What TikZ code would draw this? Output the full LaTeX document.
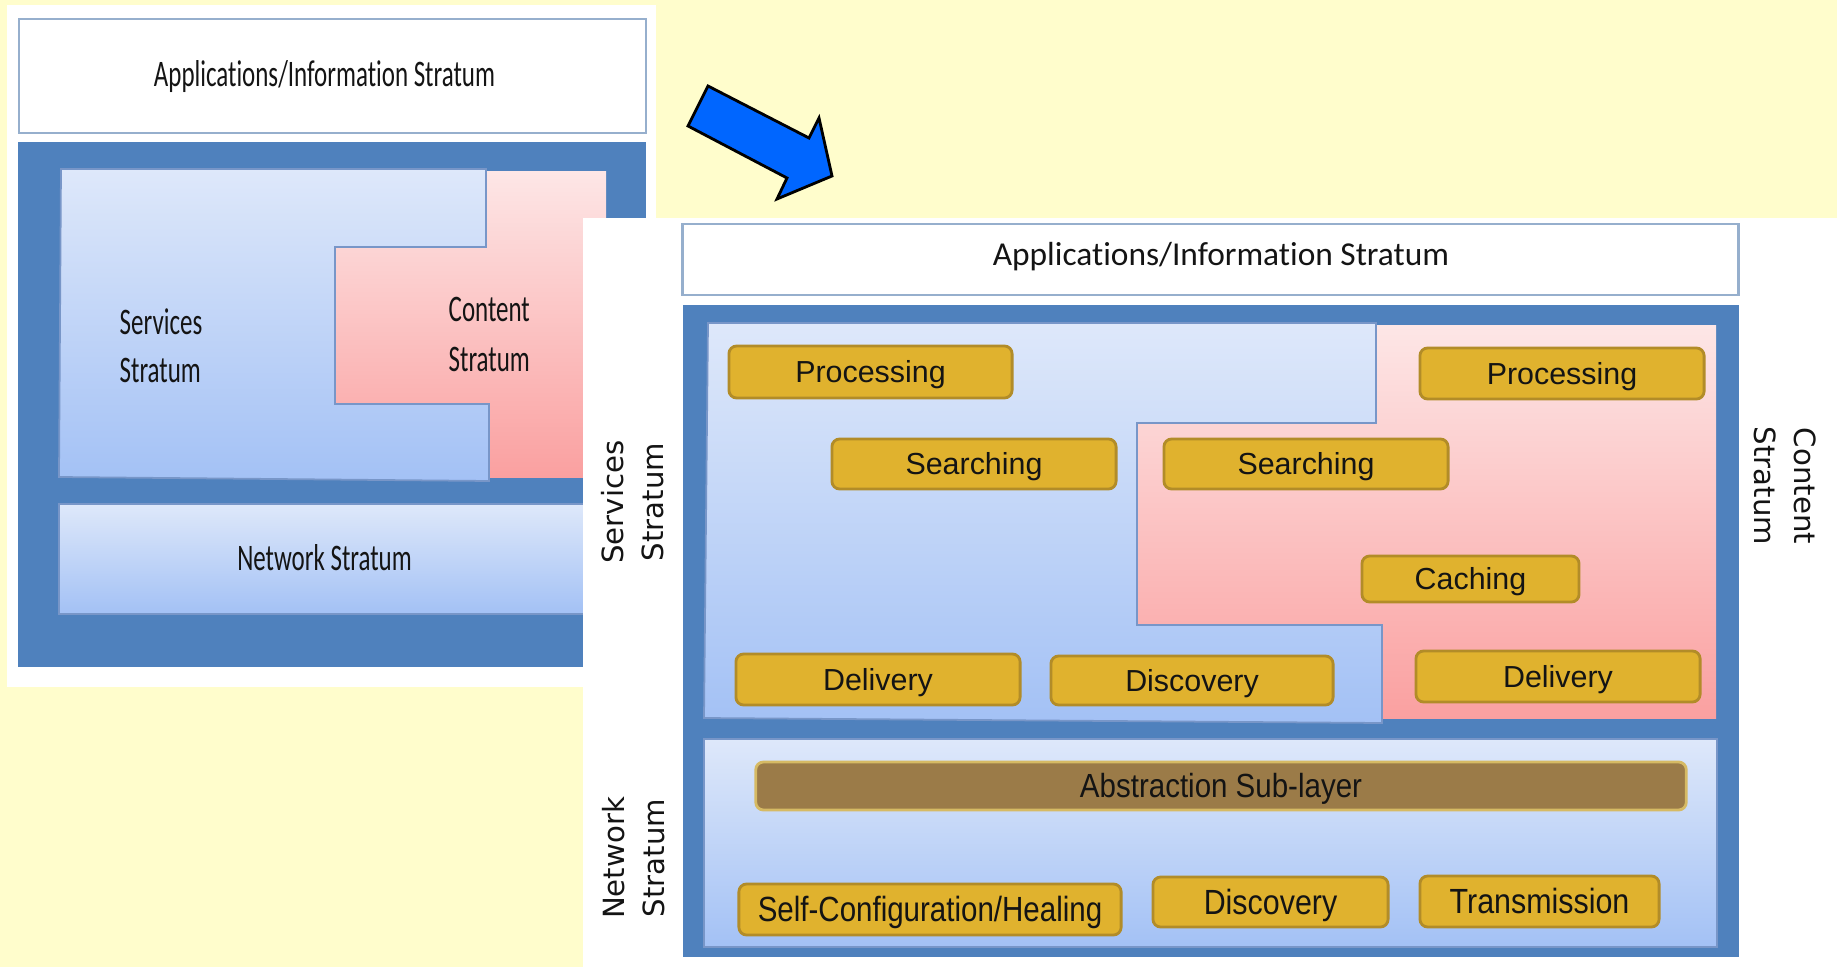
\documentclass[tikz,border=0pt]{standalone}
\usepackage{fontspec}
\setmainfont{Liberation Sans}
\newfontfamily\calfont[Ligatures={NoCommon,NoRare,NoContextual}]{Carlito}
\newfontfamily\djvfont{DejaVu Sans}
\definecolor{bgyellow}{RGB}{255,253,204}
\definecolor{darkblue}{RGB}{79,129,189}
\definecolor{svtop}{RGB}{222,232,250}
\definecolor{svbot}{RGB}{163,193,245}
\definecolor{cttop}{RGB}{253,230,230}
\definecolor{ctbot}{RGB}{250,160,160}
\definecolor{goldfill}{RGB}{224,178,46}
\definecolor{goldline}{RGB}{178,140,40}
\definecolor{absfill}{RGB}{155,123,72}
\definecolor{absline}{RGB}{214,186,100}
\definecolor{appline}{RGB}{150,175,205}
\definecolor{arrowblue}{RGB}{0,102,255}
\definecolor{edgeblue}{RGB}{120,150,200}
\definecolor{txt}{RGB}{20,20,20}
\tikzset{
  appbox/.style={draw=appline, line width=0.7pt, fill=white, inner sep=0pt},
  ltext/.style={font=\calfont\fontsize{7.1}{9}\selectfont, text=txt, inner sep=0pt},
  apptext/.style={font=\calfont\fontsize{9.5}{11}\selectfont, text=txt, inner sep=0pt},
  goldbox/.style={draw=goldline, line width=0.8pt, fill=goldfill, rounded corners=2.2pt, inner sep=0pt,
    font=\fontsize{8.65}{10}\selectfont, text=txt, text height=6.2pt, text depth=0pt},
  tallbox/.style={goldbox, text height=7.1pt},
  absbox/.style={draw=absline, line width=0.8pt, fill=absfill, rounded corners=2.2pt, inner sep=0pt,
    font=\fontsize{8.65}{10}\selectfont, text=txt, text height=6.8pt, text depth=0pt},
  rotlabel/.style={font=\djvfont\fontsize{8.3}{11.4}\selectfont, text=txt, align=center, inner sep=0pt},
  svshade/.style={top color=svtop, bottom color=svbot, draw=edgeblue, line width=0.5pt},
  ctshade/.style={top color=cttop, bottom color=ctbot},
}
\begin{document}
\begin{tikzpicture}[x=0.01cm, y=-0.01cm]
\useasboundingbox (0,0) rectangle (1837,967);
\fill[bgyellow] (0,0) rectangle (1837,967);

% ---------------- left (old) panel ----------------
\fill[white] (7,5) rectangle (656,687);
\node[appbox, minimum width=6.27cm, minimum height=1.14cm] (lapp) at (332.5,76) {};
\node[ltext, anchor=base] (lappt) at (324.5,87) {\scalebox{1}[1.5]{Applications/Information Stratum}};
\fill[darkblue] (18,142) rectangle (646,667);
\shade[ctshade] (335,172) rectangle (606,477);
\shade[svshade] (61,169) -- (486,169) -- (486,247) -- (335,247) -- (335,404) -- (489,404) -- (489,481) -- (59,477) -- cycle;
\shade[svshade] (59,504) rectangle (606,614);
\node[ltext, anchor=base west] (lsv1) at (119,335) {\scalebox{1}[1.5]{Services}};
\node[ltext, anchor=base west] (lsv2) at (119,383) {\scalebox{1}[1.5]{Stratum}};
\node[ltext, anchor=base west] (lct1) at (448,322) {\scalebox{1}[1.5]{Content}};
\node[ltext, anchor=base west] (lct2) at (448,372) {\scalebox{1}[1.5]{Stratum}};
\node[ltext, anchor=base] (lnet) at (324.5,570) {\scalebox{1}[1.5]{Network Stratum}};

% ---------------- arrow ----------------
\draw[black, fill=arrowblue, line width=0.8pt, line join=miter]
  (708,86) -- (809,138) -- (819,118) -- (832,176) -- (777,199) -- (787,178) -- (688,126) -- cycle;

% ---------------- right (new) panel ----------------
\fill[white] (583,218) rectangle (1837,967);
\node[appbox, minimum width=10.55cm, minimum height=0.71cm] (rapp) at (1210.5,259.5) {};
\node[apptext, anchor=base] (rappt) at (1221,266) {Applications/Information Stratum};
\fill[darkblue] (683,305) rectangle (1739,957);
\shade[ctshade] (1137,326) rectangle (1716,718);
\shade[svshade] (708,323) -- (1376,323) -- (1376,423) -- (1137,423) -- (1137,625) -- (1382,625) -- (1382,723) -- (704,718) -- cycle;
\shade[svshade] (704,739) rectangle (1717,947);

% services stratum functions
\node[goldbox, minimum width=2.83cm, minimum height=0.52cm] (sproc) at (870.5,372) {Processing};
\node[goldbox, minimum width=2.84cm, minimum height=0.50cm] (ssearch) at (974,464) {Searching};
\node[goldbox, minimum width=2.84cm, minimum height=0.51cm] (sdeliv) at (878,679.5) {Delivery};
\node[goldbox, minimum width=2.82cm, minimum height=0.49cm] (sdisc) at (1192,680.5) {Discovery};
% content stratum functions
\node[goldbox, minimum width=2.84cm, minimum height=0.51cm] (cproc) at (1562,373.5) {Processing};
\node[goldbox, minimum width=2.84cm, minimum height=0.50cm] (csearch) at (1306,464) {Searching};
\node[goldbox, minimum width=2.17cm, minimum height=0.46cm] (ccache) at (1470.5,579) {Caching};
\node[goldbox, minimum width=2.84cm, minimum height=0.51cm] (cdeliv) at (1558,676.5) {Delivery};
% network stratum functions
\node[absbox, minimum width=9.30cm, minimum height=0.48cm] (nabs) at (1221,786) {\scalebox{0.97}[1.1]{Abstraction Sub-layer}};
\node[tallbox, minimum width=3.82cm, minimum height=0.51cm] (nself) at (930,909.5) {\scalebox{0.97}[1.15]{Self-Configuration/Healing}};
\node[tallbox, minimum width=2.35cm, minimum height=0.50cm] (ndisc) at (1270.5,902) {\scalebox{1}[1.15]{Discovery}};
\node[tallbox, minimum width=2.39cm, minimum height=0.51cm] (ntrans) at (1539.5,901.5) {\scalebox{1}[1.15]{Transmission}};

% side labels
\node[rotlabel, rotate=90] (slab) at (633,502) {Services\\Stratum};
\node[rotlabel, rotate=90] (nlab) at (634,858) {Network\\Stratum};
\node[rotlabel, rotate=-90] (clab) at (1785,486) {Content\\Stratum};
\end{tikzpicture}
\end{document}
